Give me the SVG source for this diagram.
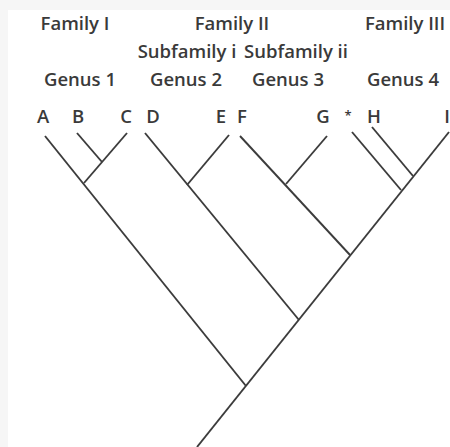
<svg xmlns="http://www.w3.org/2000/svg" width="450" height="447" viewBox="0 0 450 447">
<style>
text{font-family:"Open Sans","Liberation Sans",sans-serif;font-size:18.5px;font-weight:600;fill:#3a3a3a;text-anchor:middle}
.e{stroke:#3c3c3c;stroke-width:1.9;fill:none;stroke-linecap:butt}
</style>
<rect x="0" y="0" width="450" height="447" fill="#f6f6f6"/>
<rect x="8" y="10" width="442" height="437" fill="#ffffff"/>
<g id="headers">
<text x="75" y="30">Family I</text>
<text x="232" y="30">Family II</text>
<text x="405" y="30">Family III</text>
<text x="187" y="58">Subfamily i</text>
<text x="296" y="58">Subfamily ii</text>
<text x="80" y="86">Genus 1</text>
<text x="186" y="86">Genus 2</text>
<text x="288" y="86">Genus 3</text>
<text x="403" y="86">Genus 4</text>
</g>
<g id="leaf-A"><text x="43" y="123">A</text></g>
<g id="leaf-B"><text x="78" y="123">B</text></g>
<g id="leaf-C"><text x="126" y="123">C</text></g>
<g id="leaf-D"><text x="153" y="123">D</text></g>
<g id="leaf-E"><text x="221" y="123">E</text></g>
<g id="leaf-F"><text x="242" y="123">F</text></g>
<g id="leaf-G"><text x="323" y="123">G</text></g>
<g id="leaf-star"><text x="348" y="120" style="font-size:13px">*</text></g>
<g id="leaf-H"><text x="374" y="123">H</text></g>
<g id="leaf-I"><text x="447" y="123">I</text></g>
<g id="connectors" class="e">
<line x1="197" y1="447" x2="449" y2="132"/>
<line x1="246" y1="386" x2="45" y2="136"/>
<line x1="84" y1="183" x2="127" y2="133"/>
<line x1="102" y1="162" x2="77" y2="133"/>
<line x1="299" y1="320" x2="145" y2="133"/>
<line x1="187" y1="185" x2="229" y2="135"/>
<line x1="350" y1="255" x2="240" y2="136"/>
<line x1="286" y1="184" x2="327" y2="136"/>
<line x1="401" y1="190" x2="352" y2="132"/>
<line x1="413" y1="176" x2="372" y2="127"/>
</g>
</svg>
